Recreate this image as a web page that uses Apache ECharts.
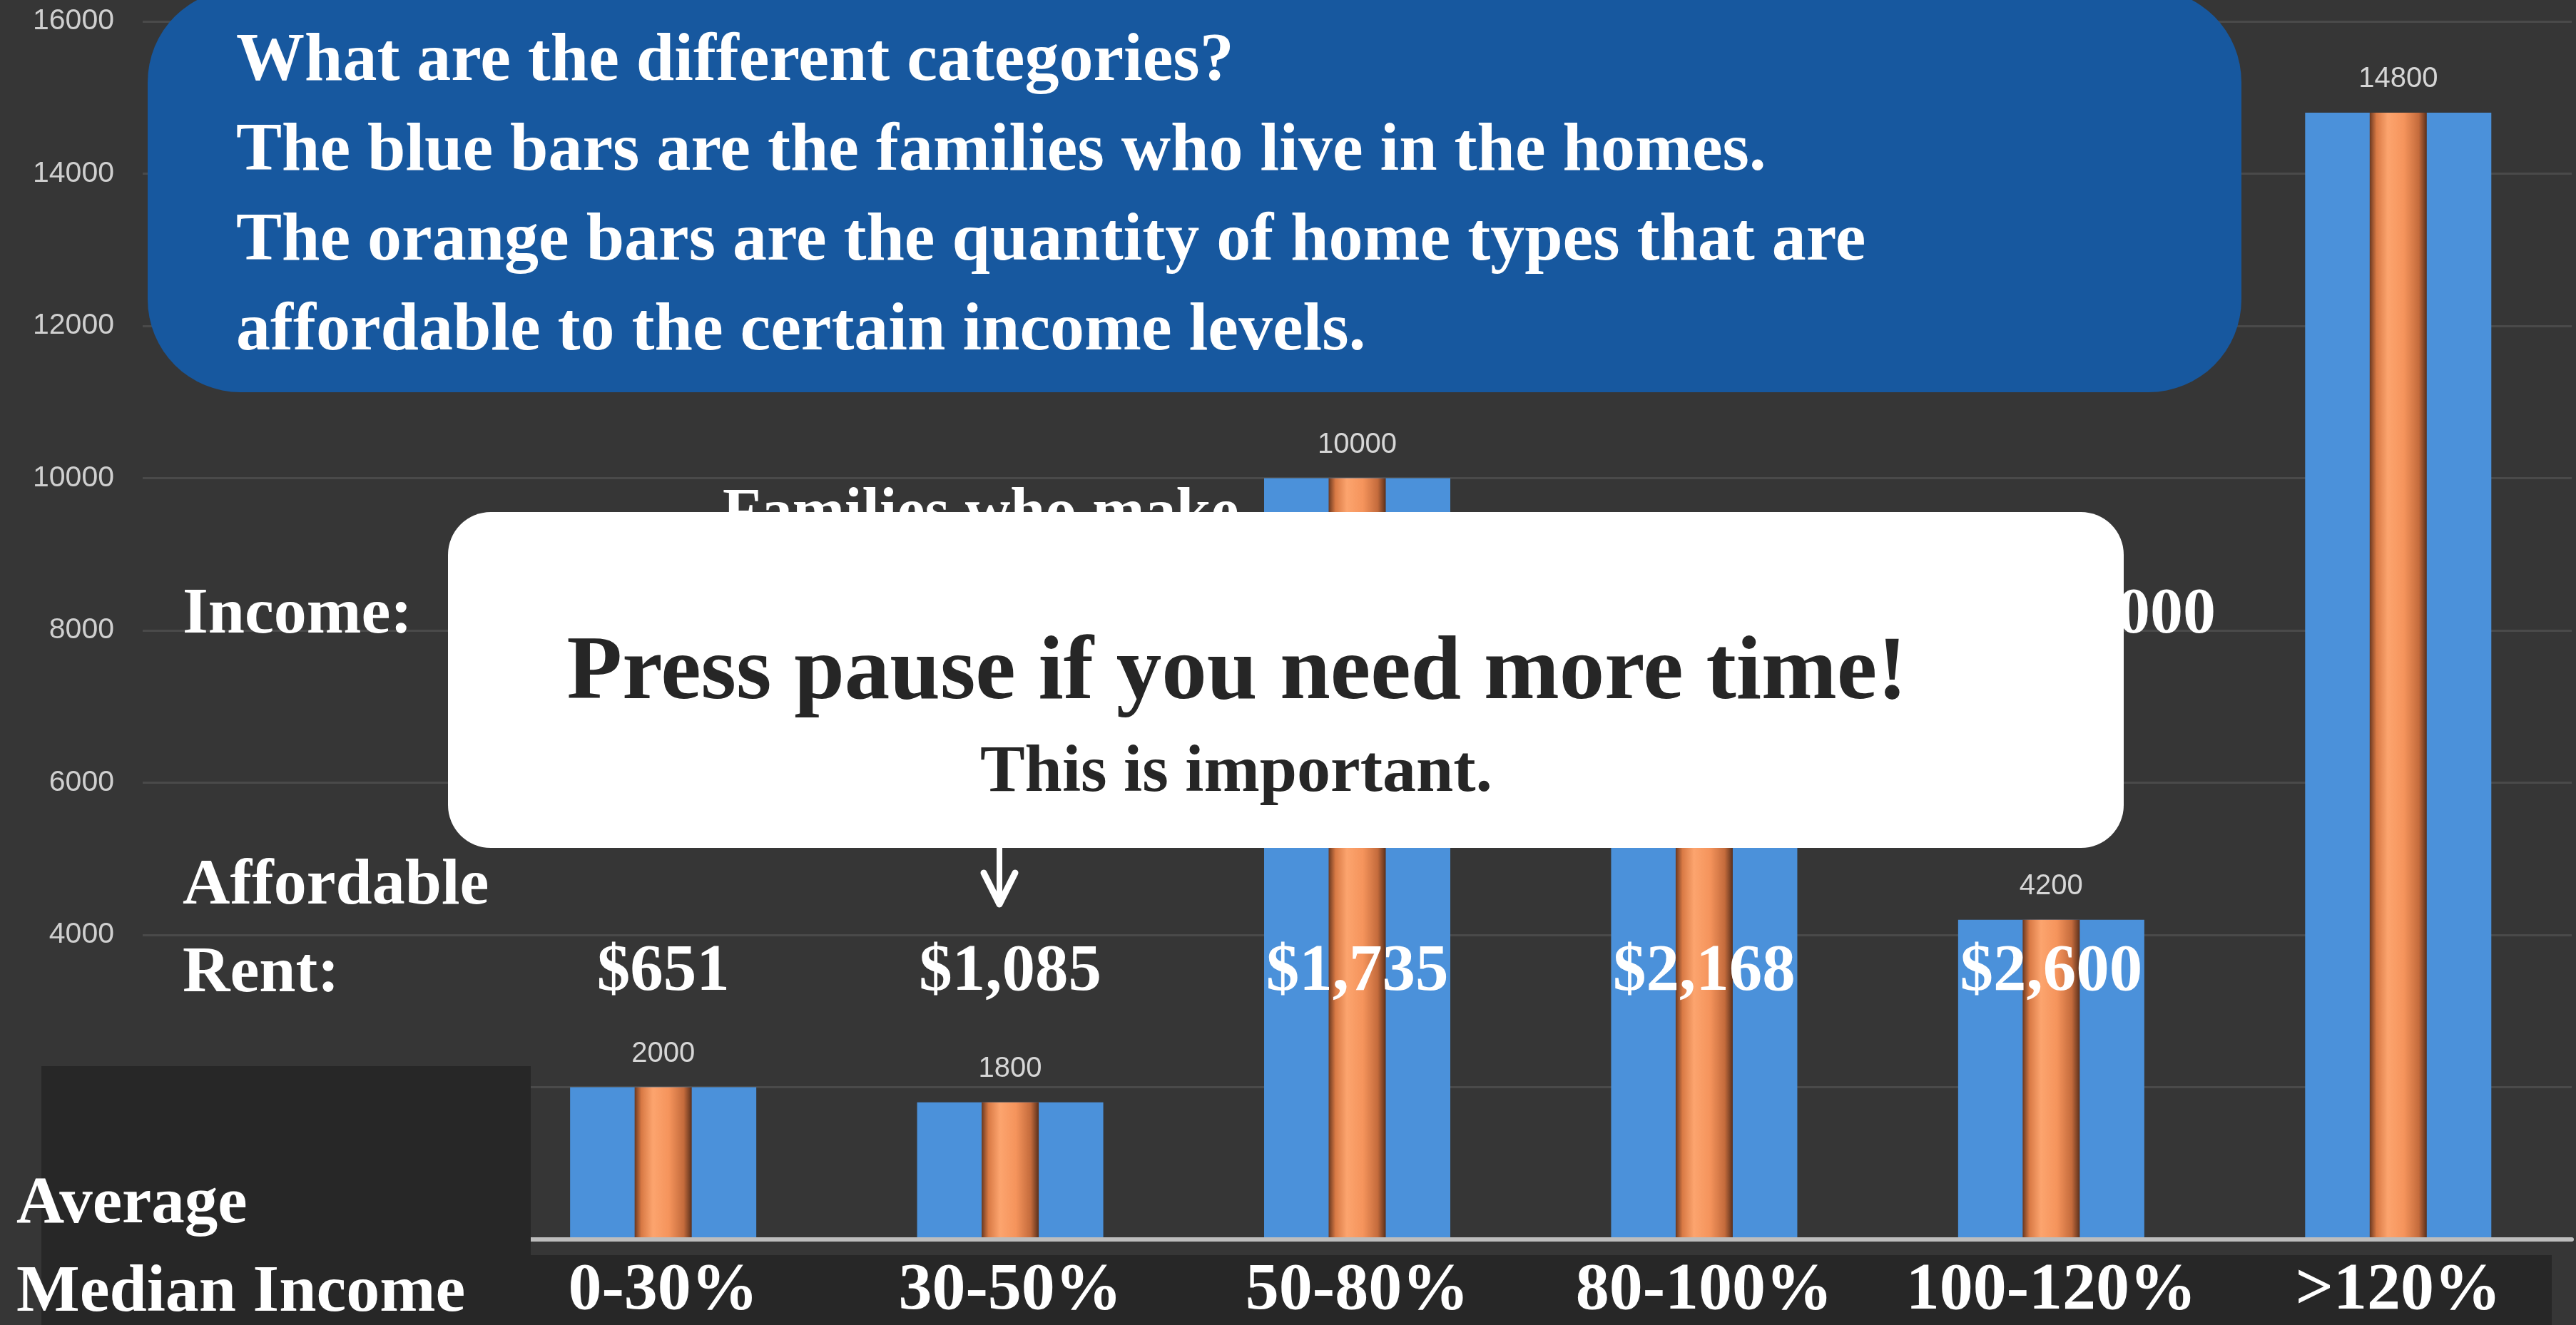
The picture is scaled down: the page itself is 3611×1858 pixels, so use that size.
<!DOCTYPE html>
<html>
<head>
<meta charset="utf-8">
<script src="https://cdn.jsdelivr.net/npm/echarts@6/dist/echarts.min.js"></script>
<style>
  html, body { margin: 0; background: #363636; }
  #chart { width: 3611px; height: 1858px; }
</style>
</head>
<body>
<div id="chart"></div>
<script>
// the source chart keeps an empty slot left of 0-30%
const incomeBands = ['', '0-30%', '30-50%', '50-80%', '80-100%', '100-120%', '>120%'];
const families = [null, 2000, 1800, 10000, 7000, 4200, 14800];
const affordableHomes = [null, 2000, 1800, 10000, 7000, 4200, 14800];
const affordableRent = ['', '$651', '$1,085', '$1,735', '$2,168', '$2,600', ''];
const yMin = 0;
const yMax = 16000;
const yStep = 2000;

const questionLines = [
  'What are the different categories?',
  'The blue bars are the families who live in the homes.',
  'The orange bars are the quantity of home types that are',
  'affordable to the certain income levels.'
];

const serif = '"Liberation Serif", "DejaVu Serif", serif';

function txt(text, x, y, size, opt) {
  opt = opt || {};
  return {
    type: 'text',
    x: x,
    y: y,
    z: opt.z || 6,
    style: {
      text: text,
      fill: opt.color || '#ffffff',
      font: 'bold ' + size + 'px ' + serif,
      textAlign: opt.align || 'left',
      textVerticalAlign: 'middle'
    }
  };
}

const chart = echarts.init(document.getElementById('chart'));

const orangeFill = new echarts.graphic.LinearGradient(0, 0, 1, 0, [
  { offset: 0, color: '#6a3820' },
  { offset: 0.12, color: '#d97a45' },
  { offset: 0.32, color: '#fca46e' },
  { offset: 0.6, color: '#f5945c' },
  { offset: 0.86, color: '#c46b3c' },
  { offset: 1, color: '#5a301c' }
]);

const option = {
  backgroundColor: '#363636',
  animation: false,
  grid: { left: 200, right: 6, top: 30, bottom: 118 },
  xAxis: [
    {
      type: 'category',
      data: incomeBands,
      position: 'bottom',
      z: 3,
      axisLine: { lineStyle: { color: '#bdbdbd', width: 6 } },
      axisTick: { show: false },
      axisLabel: { show: false }
    },
    {
      type: 'category',
      data: incomeBands,
      position: 'bottom',
      z: 6,
      axisLine: { show: false },
      axisTick: { show: false },
      axisLabel: {
        color: '#ffffff',
        fontFamily: serif,
        fontWeight: 'bold',
        fontSize: 94,
        margin: 26,
        interval: 0
      }
    }
  ],
  yAxis: {
    type: 'value',
    min: yMin,
    max: yMax,
    interval: yStep,
    axisLine: { show: false },
    axisTick: { show: false },
    axisLabel: {
      color: '#cfcfcf',
      fontFamily: '"Liberation Sans", Arial, sans-serif',
      fontSize: 41,
      margin: 40,
      formatter: function (v) { return String(v); }
    },
    splitLine: { lineStyle: { color: '#4a4a4a', width: 3 } }
  },
  series: [
    {
      name: 'Families',
      type: 'bar',
      xAxisIndex: 0,
      data: families,
      barWidth: 261,
      itemStyle: { color: '#4b91da' },
      label: {
        show: true,
        position: 'top',
        distance: 27,
        color: '#d6d6d6',
        fontFamily: '"Liberation Sans", Arial, sans-serif',
        fontSize: 40
      }
    },
    {
      name: 'Affordable homes',
      type: 'bar',
      xAxisIndex: 1,
      data: affordableHomes,
      barWidth: 80,
      itemStyle: { color: orangeFill }
    }
  ]
};

chart.setOption(option);

const overlays = [
  // dark strip behind the category names and the left block
  { type: 'rect', z: 4, shape: { x: 58, y: 1760, width: 3519, height: 98 }, style: { fill: '#272727' } },
  { type: 'rect', z: 4, shape: { x: 58, y: 1495, width: 686, height: 363 }, style: { fill: '#272727' } },

  txt('Income:', 256, 863, 92),
  txt('Families who make', 1013, 722, 88),
  txt('$104,000', 3106, 863, 92, { align: 'right' }),
  txt('Affordable', 256, 1243, 92),
  txt('Rent:', 256, 1366, 92),
  txt('Average', 23, 1690, 93),
  txt('Median Income', 23, 1814, 94),

  // question box
  { type: 'rect', z: 7, shape: { x: 207, y: -15, width: 2935, height: 565, r: 130 }, style: { fill: '#17589f' } }
];

questionLines.forEach(function (line, i) {
  overlays.push(txt(line, 331, 87 + i * 126, 96, { z: 8 }));
});

affordableRent.forEach(function (rent, i) {
  if (!rent) return;
  const x = chart.convertToPixel({ xAxisIndex: 0 }, incomeBands[i]);
  overlays.push(txt(rent, x, 1364, 93, { align: 'center' }));
});

// pause box and arrow
overlays.push(
  { type: 'rect', z: 9, shape: { x: 628, y: 718, width: 2349, height: 471, r: 60 }, style: { fill: '#ffffff' } },
  txt('Press pause if you need more time!', 1734, 946, 127, { z: 10, color: '#262626', align: 'center' }),
  txt('This is important.', 1733, 1085, 94, { z: 10, color: '#262626', align: 'center' }),
  { type: 'line', z: 9, shape: { x1: 1401, y1: 1186, x2: 1401, y2: 1262 }, style: { stroke: '#ffffff', lineWidth: 8, lineCap: 'round' } },
  { type: 'polyline', z: 9, shape: { points: [[1379, 1224], [1401, 1268], [1423, 1224]] }, style: { stroke: '#ffffff', lineWidth: 9, lineCap: 'round', lineJoin: 'round', fill: null } }
);

chart.setOption({ graphic: overlays });
</script>
</body>
</html>
